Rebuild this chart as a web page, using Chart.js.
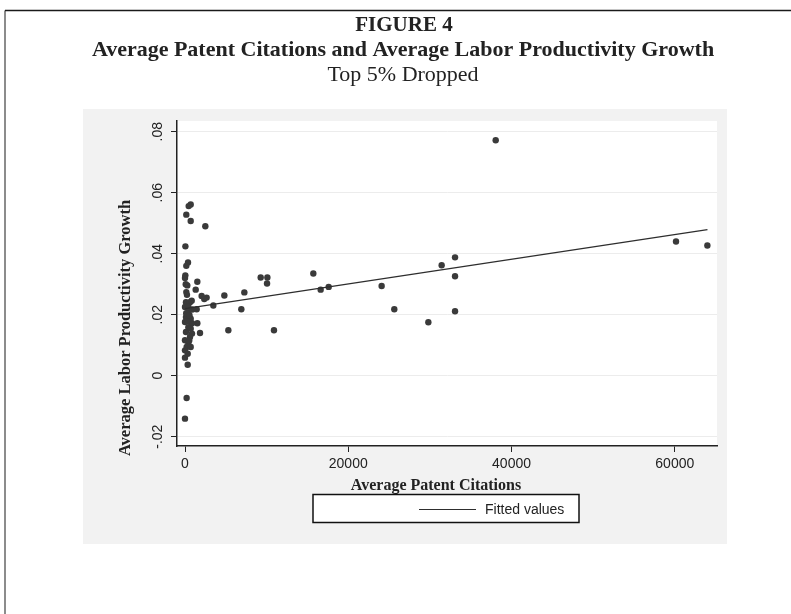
<!DOCTYPE html>
<html>
<head>
<meta charset="utf-8">
<title>Figure 4</title>
<script src="https://cdn.jsdelivr.net/npm/chart.js@4.4.0/dist/chart.umd.min.js"></script>
<style>
  html, body { margin: 0; padding: 0; background: #fff; }
  canvas { display: block; }
</style>
</head>
<body>
<canvas id="fig4" width="791" height="614"></canvas>
<script>
// average patent citations (x) and average labor productivity growth (y)
var citations = [
  38060, 15720, 16620, 17600, 24090, 25640, 29810, 31440, 33080, 33080, 33080, 60150, 63990,
  700, 450, 160, 700, 2490, 50, 370, 160, 40, 0, 280, 160,
  1510, 1310, 2040, 2650, 2360, 3470, 4820, 7270, 6900, 9270, 10090, 10050,
  5310, 10900, 1840, 1510, 860, 860, 900, 1430,
  120, 610, 0, 410, 120, 700, 0, 410, 120, 610, 0, 410, 200, 700, 0, 820,
  0, 330, 330, 200, 0,
  410, 700, 240, 90, 520, 300, 150, 550
];
var growth = [
  0.0772, 0.0335, 0.0282, 0.0291, 0.0294, 0.0218, 0.0175, 0.0362, 0.0388, 0.0326, 0.0211, 0.0440, 0.0427,
  0.0561, 0.0556, 0.0528, 0.0507, 0.0490, 0.0424, 0.0371, 0.0360, 0.0329, 0.0320, 0.0296, 0.0274,
  0.0308, 0.0282, 0.0261, 0.0256, 0.0251, 0.0230, 0.0263, 0.0273, 0.0218, 0.0322, 0.0322, 0.0302,
  0.0149, 0.0149, 0.0140, 0.0172, 0.0172, 0.0138, 0.0217, 0.0218,
  0.0241, 0.0241, 0.0225, 0.0209, 0.0192, 0.0187, 0.0176, 0.0159, 0.0143, 0.0127, 0.0116, 0.0105, 0.0094, 0.0094, 0.0083, 0.0246,
  0.0059, 0.0072, 0.0036, -0.0073, -0.0141,
  0.0225, 0.0154, 0.0265, 0.0300, 0.0115, 0.0178, 0.0205, 0.0198
];
// fitted values line, ends
var fitCitations = [0, 64000];
var fitGrowth = [0.0220, 0.0479];

var xTicks = [0, 20000, 40000, 60000];
var yTicks = [-0.02, 0, 0.02, 0.04, 0.06, 0.08];
var yTickLabels = ['-.02', '0', '.02', '.04', '.06', '.08'];
var titleLines = ['FIGURE 4', 'Average Patent Citations and Average Labor Productivity Growth', 'Top 5% Dropped'];
var xTitle = 'Average Patent Citations';
var yTitle = 'Average Labor Productivity Growth';

var points = [];
for (var i = 0; i < citations.length; i++) {
  points.push({ x: citations[i], y: growth[i] });
}
var fitLine = [];
for (i = 0; i < fitCitations.length; i++) {
  fitLine.push({ x: fitCitations[i], y: fitGrowth[i] });
}

var ink = '#222222';

// page frame, grey graph region and white plot region behind the chart,
// titles and the legend box on top
var framePlugin = {
  id: 'framePlugin',
  beforeDraw: function (chart) {
    var ctx = chart.ctx;
    var ca = chart.chartArea;
    ctx.save();
    ctx.fillStyle = '#ffffff';
    ctx.fillRect(0, 0, chart.width, chart.height);
    ctx.lineWidth = 1.5;
    ctx.strokeStyle = '#666666';
    ctx.beginPath();
    ctx.moveTo(5, chart.height);
    ctx.lineTo(5, 10.5);
    ctx.stroke();
    ctx.strokeStyle = '#1a1a1a';
    ctx.beginPath();
    ctx.moveTo(5, 10.5);
    ctx.lineTo(chart.width, 10.5);
    ctx.stroke();
    ctx.fillStyle = '#f2f2f2';
    ctx.fillRect(83, 109, 644, 435);
    ctx.fillStyle = '#ffffff';
    ctx.fillRect(ca.left, ca.top, ca.right - ca.left, ca.bottom - ca.top);
    ctx.restore();
  },
  afterDraw: function (chart) {
    var ctx = chart.ctx;
    ctx.save();
    ctx.fillStyle = ink;
    ctx.textAlign = 'center';
    ctx.textBaseline = 'alphabetic';
    ctx.font = 'bold 21px "Liberation Serif"';
    ctx.fillText(titleLines[0], 404, 31);
    ctx.font = 'bold 22px "Liberation Serif"';
    ctx.fillText(titleLines[1], 403, 56);
    ctx.font = '22px "Liberation Serif"';
    ctx.fillText(titleLines[2], 403, 81);

    // axis titles
    ctx.font = 'bold 16px "Liberation Serif"';
    ctx.fillText(xTitle, 436, 490);
    ctx.save();
    ctx.translate(130, 328);
    ctx.rotate(-Math.PI / 2);
    ctx.font = 'bold 16.5px "Liberation Serif"';
    ctx.fillText(yTitle, 0, 0);
    ctx.restore();

    // legend box
    var fit = chart.data.datasets[0];
    ctx.fillStyle = '#ffffff';
    ctx.fillRect(313, 494.5, 266, 28);
    ctx.strokeStyle = '#111111';
    ctx.lineWidth = 1.5;
    ctx.strokeRect(313, 494.5, 266, 28);
    ctx.strokeStyle = fit.borderColor;
    ctx.lineWidth = 1;
    ctx.beginPath();
    ctx.moveTo(419, 509.5);
    ctx.lineTo(476, 509.5);
    ctx.stroke();
    ctx.fillStyle = ink;
    ctx.textAlign = 'left';
    ctx.textBaseline = 'middle';
    ctx.font = '14px "Liberation Sans"';
    ctx.fillText(fit.label, 485, 510);
    ctx.restore();
  }
};

var chart = new Chart(document.getElementById('fig4'), {
  type: 'scatter',
  data: {
    datasets: [{
      type: 'line',
      label: 'Fitted values',
      data: fitLine,
      borderColor: '#2e2e2e',
      borderWidth: 1.3,
      pointRadius: 0,
      fill: false,
      tension: 0,
      order: 0
    }, {
      type: 'scatter',
      label: yTitle,
      data: points,
      backgroundColor: '#3a3a3a',
      borderColor: '#3a3a3a',
      borderWidth: 0,
      pointRadius: 3.2,
      order: 1
    }]
  },
  options: {
    responsive: false,
    animation: false,
    devicePixelRatio: 1,
    layout: {
      padding: { left: 105, right: 74, top: 121, bottom: 0 }
    },
    plugins: {
      legend: { display: false },
      tooltip: { enabled: false }
    },
    scales: {
      x: {
        type: 'linear',
        min: -980,
        max: 65170,
        afterBuildTicks: function (scale) {
          scale.ticks = xTicks.map(function (v) { return { value: v }; });
        },
        afterFit: function (scale) {
          scale.height = 168;
        },
        ticks: {
          padding: 4,
          maxRotation: 0,
          autoSkip: false,
          color: ink,
          font: { family: 'Liberation Sans', size: 14 },
          callback: function (value) { return String(value); }
        },
        grid: {
          drawOnChartArea: false,
          tickColor: ink,
          tickLength: 6,
          tickWidth: 1
        },
        border: { color: ink, width: 1.5 }
      },
      y: {
        type: 'linear',
        min: -0.02306,
        max: 0.0835,
        afterBuildTicks: function (scale) {
          scale.ticks = yTicks.map(function (v) { return { value: v }; });
        },
        afterFit: function (scale) {
          scale.width = 72;
        },
        ticks: {
          minRotation: 90,
          maxRotation: 90,
          crossAlign: 'center',
          padding: 1,
          autoSkip: false,
          color: ink,
          font: { family: 'Liberation Sans', size: 14 },
          callback: function (value, index) { return yTickLabels[index]; }
        },
        grid: {
          color: '#ececec',
          lineWidth: 1,
          tickColor: ink,
          tickLength: 6,
          tickWidth: 1
        },
        border: { color: ink, width: 1.5 }
      }
    }
  },
  plugins: [framePlugin]
});
</script>
</body>
</html>
